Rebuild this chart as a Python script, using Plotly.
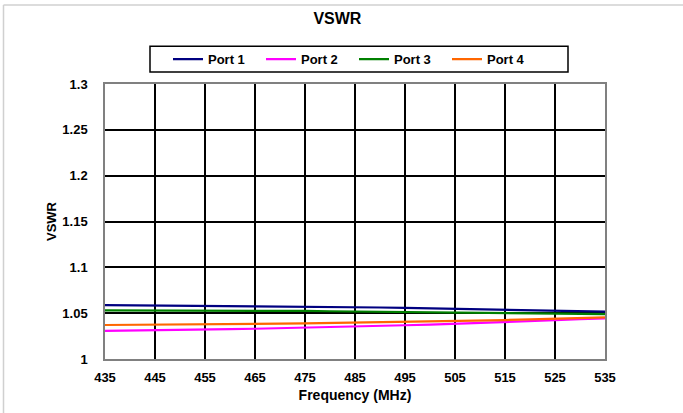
import plotly.graph_objects as go

freq = [435, 440, 445, 450, 455, 460, 465, 470, 475, 480, 485, 490, 495, 500, 505, 510, 515, 520, 525, 530, 535]
port1 = [1.0588, 1.0586, 1.0584, 1.0583, 1.0581, 1.0580, 1.0578, 1.0576, 1.0573, 1.0570, 1.0566, 1.0562,
         1.0558, 1.0553, 1.0548, 1.0543, 1.0537, 1.0531, 1.0526, 1.0521, 1.0517]
port2 = [1.0307, 1.0309, 1.0312, 1.0316, 1.0320, 1.0325, 1.0330, 1.0335, 1.0341, 1.0347, 1.0354, 1.0361,
         1.0368, 1.0376, 1.0384, 1.0393, 1.0403, 1.0413, 1.0423, 1.0434, 1.0444]
port3 = [1.0531, 1.0531, 1.0530, 1.0530, 1.0529, 1.0528, 1.0527, 1.0526, 1.0524, 1.0521, 1.0518, 1.0514,
         1.0510, 1.0507, 1.0504, 1.0501, 1.0498, 1.0496, 1.0494, 1.0492, 1.0490]
port4 = [1.0371, 1.0372, 1.0374, 1.0376, 1.0378, 1.0380, 1.0382, 1.0385, 1.0388, 1.0392, 1.0396, 1.0400,
         1.0404, 1.0409, 1.0414, 1.0419, 1.0425, 1.0432, 1.0439, 1.0447, 1.0455]

series_names = ["Port 1", "Port 2", "Port 3", "Port 4"]
series_vals = [port1, port2, port3, port4]
colors = ["#000080", "#FF00FF", "#008000", "#FF6600"]

x_ticks = [435, 445, 455, 465, 475, 485, 495, 505, 515, 525, 535]
y_ticks = [1, 1.05, 1.1, 1.15, 1.2, 1.25, 1.3]
y_labels = ["1", "1.05", "1.1", "1.15", "1.2", "1.25", "1.3"]

fig = go.Figure()
for name, vals, c in zip(series_names, series_vals, colors):
    fig.add_trace(go.Scatter(x=freq, y=vals, mode="lines", name="<b>%s</b>" % name,
                             line=dict(color=c, width=2.2)))

W, H = 683, 413
L, R, T, B = 105, 78, 84, 52
pw, ph = W - L - R, H - T - B

def px(xp):
    return (xp - L) / pw

def py(yp):
    return (H - B - yp) / ph

fig.update_layout(
    width=W, height=H,
    margin=dict(l=L, r=R, t=T, b=B),
    paper_bgcolor="white", plot_bgcolor="white",
    font=dict(family="Liberation Sans, Arial", color="black"),
    title=dict(text="<b>VSWR</b>", x=px(352), xanchor="center", y=1 - 18 / H, yanchor="middle",
               font=dict(size=16, color="black")),
    showlegend=True,
    legend=dict(orientation="h", x=px(168), xanchor="left", y=py(59), yanchor="middle",
                bgcolor="rgba(0,0,0,0)", borderwidth=0,
                entrywidth=48, entrywidthmode="pixels",
                font=dict(size=13, color="black", family="Liberation Sans, Arial"),
                itemwidth=30, tracegroupgap=0),
    xaxis=dict(range=[435, 535], tickvals=x_ticks, ticktext=["<b>%d</b>" % v for v in x_ticks],
               showgrid=True, gridcolor="black", gridwidth=1.7,
               showline=True, linecolor="#808080", linewidth=1.5, mirror=True,
               ticks="", ticklabelstandoff=6, tickfont=dict(size=13, color="black"), zeroline=False,
               title=dict(text="<b>Frequency (MHz)</b>", font=dict(size=14, color="black"), standoff=6)),
    yaxis=dict(range=[1, 1.3], tickvals=y_ticks, ticktext=["<b>%s</b>" % s for s in y_labels],
               showgrid=True, gridcolor="black", gridwidth=1.7,
               showline=True, linecolor="#808080", linewidth=1.5, mirror=True,
               ticks="", ticklabelstandoff=13, tickfont=dict(size=13, color="black"),
               zeroline=False,
               title=dict(text="<b>VSWR</b>", font=dict(size=13, color="black"), standoff=3)),
    shapes=[
        dict(type="rect", xref="paper", yref="paper", x0=px(150), x1=px(568), y0=py(72), y1=py(46),
             line=dict(color="black", width=1.5), fillcolor="white", layer="below"),
        dict(type="line", xref="paper", yref="paper", x0=px(3.5), x1=px(700), y0=py(4.5), y1=py(4.5),
             line=dict(color="#d0d0d0", width=1.5), layer="below"),
        dict(type="line", xref="paper", yref="paper", x0=px(3.5), x1=px(3.5), y0=py(430), y1=py(4.5),
             line=dict(color="#d0d0d0", width=1.5), layer="below"),
    ],
)

fig.write_html("out.html", config={"displayModeBar": False},
               post_script="document.body.style.margin='0';")
